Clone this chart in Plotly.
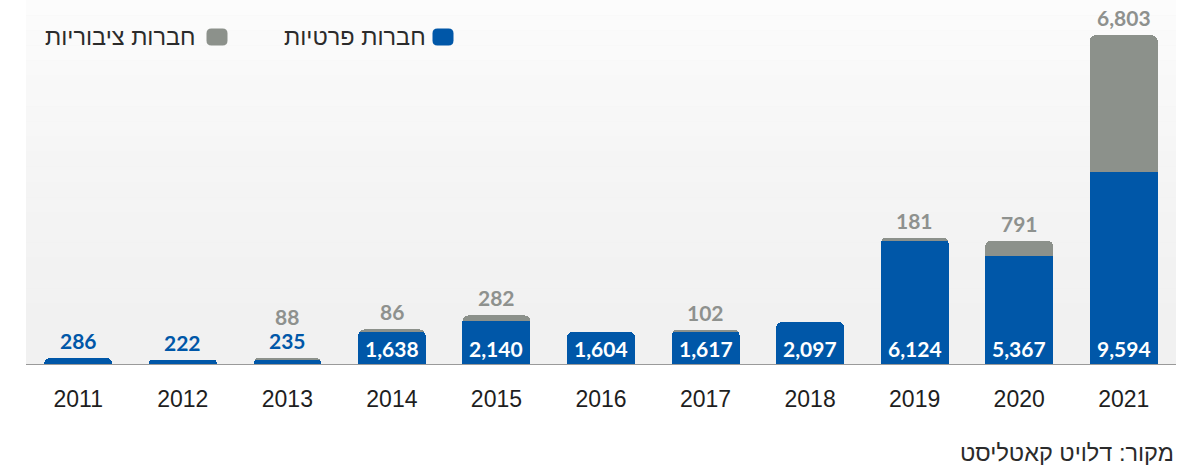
import plotly.graph_objects as go

years = ['2011', '2012', '2013', '2014', '2015', '2016', '2017', '2018', '2019', '2020', '2021']
private = [286, 222, 235, 1638, 2140, 1604, 1617, 2097, 6124, 5367, 9594]
public = [None, None, 88, 86, 282, None, 102, None, 181, 791, 6803]

legend_private = 'חברות פרטיות'
legend_public = 'חברות ציבוריות'
source_text = 'מקור: דלויט קאטליסט'

BLUE = '#0057a8'
GRAY = '#8c918b'
NUM_FONT = 'Lato, Roboto, Arial, sans-serif'

W, H = 1201, 471
L, R, T, B = 26, 25, 0, 107
pw, ph = W - L - R, H - T - B

def px(x):
    return (x - L) / pw

def py(y):
    return 1 - (y - T) / ph

fig = go.Figure()
fig.add_trace(go.Bar(x=years, y=private, marker=dict(color=BLUE, line=dict(width=0)),
                     name=legend_private, hoverinfo='skip'))
fig.add_trace(go.Bar(x=years, y=public, marker=dict(color=GRAY, line=dict(width=0)),
                     name=legend_public, hoverinfo='skip'))

annotations = []
for i, (yr, pv, pb) in enumerate(zip(years, private, public)):
    total = pv + (pb or 0)
    shift = 3
    if pv >= 1000:
        annotations.append(dict(x=i, y=0, xref='x', yref='y', yanchor='bottom', yshift=1,
                                text=f'{pv:,}', showarrow=False,
                                font=dict(family=NUM_FONT, size=21, color='white', weight='bold')))
    else:
        annotations.append(dict(x=i, y=total, xref='x', yref='y', yanchor='bottom', yshift=shift,
                                text=f'{pv:,}', showarrow=False,
                                font=dict(family=NUM_FONT, size=21, color=BLUE, weight='bold')))
        shift += 24
    if pb:
        annotations.append(dict(x=i, y=total, xref='x', yref='y', yanchor='bottom', yshift=shift,
                                text=f'{pb:,}', showarrow=False,
                                font=dict(family=NUM_FONT, size=21, color='#8e918e', weight='bold')))

HEB_FONT = 'Liberation Sans, Arial, sans-serif'
for txt, xr, yc, sz in [(legend_private, 428, 37, 23.5), (legend_public, 198, 37, 23.5), (source_text, 1176, 453, 23.5)]:
    annotations.append(dict(x=px(xr), y=py(yc), xref='paper', yref='paper', showarrow=False, text=txt,
                            xanchor='right', yanchor='middle',
                            font=dict(family=HEB_FONT, size=sz, color='#2b2b2b')))

shapes = []
# soft vertical gradient in plot background (lighter at top)
n = 24
for i in range(n):
    y0 = 1 - i / n
    y1 = 1 - (i + 1) / n
    op = 0.75 * (1 - i / n) ** 1.5
    shapes.append(dict(type='rect', xref='paper', yref='paper', x0=0, x1=1, y0=y1, y1=y0,
                       fillcolor='white', opacity=op, line=dict(width=0), layer='below'))

def marker_shape(cx, cy, color):
    w, h, r = 21, 17, 5
    x0, x1, y0, y1 = cx - w / 2, cx + w / 2, cy - h / 2, cy + h / 2
    pts = [('M', x0 + r, y0), ('L', x1 - r, y0), ('Q', x1, y0, x1, y0 + r), ('L', x1, y1 - r),
           ('Q', x1, y1, x1 - r, y1), ('L', x0 + r, y1), ('Q', x0, y1, x0, y1 - r), ('L', x0, y0 + r),
           ('Q', x0, y0, x0 + r, y0)]
    parts = []
    for p in pts:
        if p[0] == 'Q':
            parts.append(f'Q {px(p[1]):.5f},{py(p[2]):.5f} {px(p[3]):.5f},{py(p[4]):.5f}')
        else:
            parts.append(f'{p[0]} {px(p[1]):.5f},{py(p[2]):.5f}')
    path = ' '.join(parts) + ' Z'
    return dict(type='path', xref='paper', yref='paper', path=path,
                fillcolor=color, line=dict(width=0), layer='above')

shapes.append(marker_shape(443, 37, BLUE))
shapes.append(marker_shape(217, 37, GRAY))

fig.update_layout(
    width=W, height=H,
    margin=dict(l=L, r=R, t=T, b=B, pad=0),
    barmode='stack', bargap=0.35, barcornerradius=6,
    showlegend=False,
    paper_bgcolor='white', plot_bgcolor='#f1f1f1',
    annotations=annotations, shapes=shapes,
    xaxis=dict(type='category', range=[-0.5, len(years) - 0.5], showgrid=False, zeroline=False,
               showline=True, linecolor='#9a9a9a', linewidth=1, ticks='', ticklabelstandoff=14,
               tickfont=dict(family='Liberation Sans, Arial, sans-serif', size=23, color='#1e1e1e'),
               fixedrange=True),
    yaxis=dict(range=[0, 18150], showgrid=False, zeroline=False, showticklabels=False,
               showline=False, fixedrange=True),
)

fig.write_html('out.html', config={'displayModeBar': False},
               post_script="document.body.style.margin='0';document.body.style.overflow='hidden';")
